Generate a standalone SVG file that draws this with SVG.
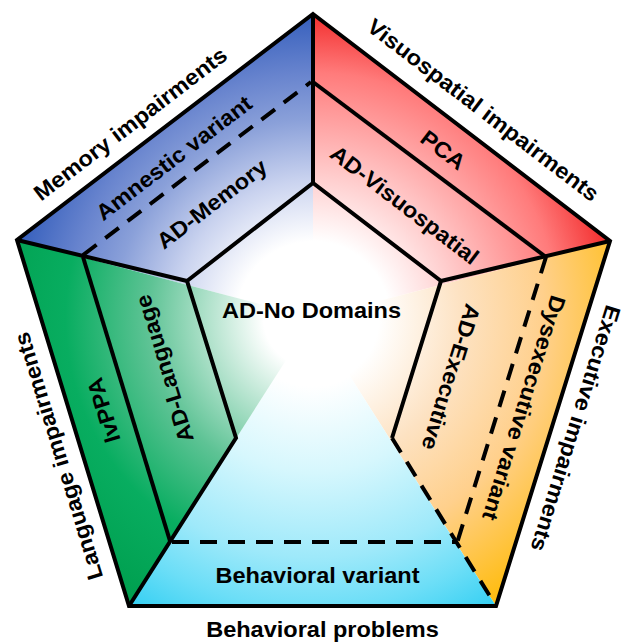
<svg xmlns="http://www.w3.org/2000/svg" width="625" height="642" viewBox="0 0 625 642">
  <style>
    .t { font-family: "Liberation Sans", Arial, sans-serif; font-weight: bold; font-size: 22px; fill: #000; text-anchor: middle; }
    .ln { fill: none; stroke: #000; stroke-width: 4; stroke-linejoin: miter; stroke-linecap: butt; }
    .dash { fill: none; stroke: #000; stroke-width: 4; stroke-dasharray: 17 11; }
  </style>
  <defs>
    <radialGradient id="gBlue" gradientUnits="userSpaceOnUse" cx="313" cy="318" r="306">
      <stop offset="0" stop-color="#ffffff"/>
      <stop offset="0.25" stop-color="#ffffff"/>
      <stop offset="0.45" stop-color="#cad3ef"/>
      <stop offset="0.65" stop-color="#8aa0d9"/>
      <stop offset="0.8" stop-color="#6884ce"/>
      <stop offset="1" stop-color="#345ebc"/>
    </radialGradient>
    <radialGradient id="gRed" gradientUnits="userSpaceOnUse" cx="313" cy="318" r="307">
      <stop offset="0" stop-color="#ffffff"/>
      <stop offset="0.25" stop-color="#ffffff"/>
      <stop offset="0.45" stop-color="#ffd0d0"/>
      <stop offset="0.65" stop-color="#ff9f9f"/>
      <stop offset="0.8" stop-color="#ff7b7b"/>
      <stop offset="1" stop-color="#f22a2a"/>
    </radialGradient>
    <radialGradient id="gOrange" gradientUnits="userSpaceOnUse" cx="313" cy="318" r="330">
      <stop offset="0" stop-color="#ffffff"/>
      <stop offset="0.2" stop-color="#ffffff"/>
      <stop offset="0.45" stop-color="#fde2c2"/>
      <stop offset="0.7" stop-color="#ffd08c"/>
      <stop offset="1" stop-color="#ffbd15"/>
    </radialGradient>
    <radialGradient id="gCyan" gradientUnits="userSpaceOnUse" cx="313" cy="318" r="342">
      <stop offset="0" stop-color="#ffffff"/>
      <stop offset="0.2" stop-color="#ffffff"/>
      <stop offset="0.45" stop-color="#d6f7fd"/>
      <stop offset="0.7" stop-color="#9ee9fa"/>
      <stop offset="0.85" stop-color="#6cdef7"/>
      <stop offset="1" stop-color="#33cff2"/>
    </radialGradient>
    <radialGradient id="gGreen" gradientUnits="userSpaceOnUse" cx="313" cy="318" r="330">
      <stop offset="0" stop-color="#ffffff"/>
      <stop offset="0.15" stop-color="#ffffff"/>
      <stop offset="0.5" stop-color="#5ec395"/>
      <stop offset="0.75" stop-color="#08ad60"/>
      <stop offset="1" stop-color="#00a050"/>
    </radialGradient>
  </defs>

  <g id="sectors">
    <polygon points="313,318 17,240 313,14" fill="url(#gBlue)"/>
    <polygon points="313,318 313,14 610,241" fill="url(#gRed)"/>
    <polygon points="313,318 610,241 496,606" fill="url(#gOrange)"/>
    <polygon points="313,318 496,606 129,606" fill="url(#gCyan)"/>
    <polygon points="313,318 129,606 17,240" fill="url(#gGreen)"/>
  </g>

  <g id="connectors">
    <path class="ln" d="M313,14 L313,183"/>
    <path class="ln" d="M17,240 L187,281 L236,438 L129,606"/>
    <path class="ln" d="M610,241 L441,281 L392,438"/>
    <path class="ln" d="M187,281 L313,183 L441,281"/>
    <path class="ln" d="M313,82 L546,257"/>
    <path class="ln" d="M83,257 L170,541"/>
    <path class="dash" d="M83,255 L311,82"/>
    <path class="dash" d="M546,257 L457,543"/>
    <path class="dash" d="M392,438 L496,606"/>
    <path class="dash" d="M172,542 L457,542"/>
    <polygon class="ln" points="313,14 610,241 496,606 129,606 17,240"/>
  </g>

  <g id="memory-impairments">
    <text class="t" transform="translate(135,130) rotate(-37.4) scale(1.07,1)">Memory impairments</text>
  </g>
  <g id="visuospatial-impairments">
    <text class="t" transform="translate(478.5,116) rotate(37.4) scale(1.07,1)">Visuospatial impairments</text>
  </g>
  <g id="executive-impairments">
    <text class="t" transform="translate(568.5,426.1) rotate(107.3) scale(1.07,1)">Executive impairments</text>
  </g>
  <g id="language-impairments">
    <text class="t" transform="translate(65.7,453.8) rotate(-107) scale(1.07,1)">Language impairments</text>
  </g>
  <g id="behavioral-problems">
    <text class="t" transform="translate(322.5,637) scale(1.07,1)">Behavioral problems</text>
  </g>

  <g id="amnestic-variant">
    <text class="t" transform="translate(178.5,164) rotate(-37.4) scale(1.07,1)">Amnestic variant</text>
  </g>
  <g id="ad-memory">
    <text class="t" transform="translate(216.5,210) rotate(-37.4) scale(1.07,1)">AD-Memory</text>
  </g>
  <g id="pca">
    <text class="t" transform="translate(438.5,156) rotate(37.4) scale(1.07,1)">PCA</text>
  </g>
  <g id="ad-visuospatial">
    <text class="t" transform="translate(400,211) rotate(37.4) scale(1.07,1)">AD-Visuospatial</text>
  </g>
  <g id="lvppa">
    <text class="t" transform="translate(111,408) rotate(-107) scale(1.07,1)">lvPPA</text>
  </g>
  <g id="ad-language">
    <text class="t" transform="translate(171.7,366.3) rotate(-107) scale(1.07,1)">AD-Language</text>
  </g>
  <g id="ad-executive">
    <text class="t" transform="translate(443.8,374.8) rotate(107.3) scale(1.07,1)">AD-Executive</text>
  </g>
  <g id="dysexecutive-variant">
    <text class="t" transform="translate(516.8,405.8) rotate(107.3) scale(1.07,1)">Dysexecutive variant</text>
  </g>
  <g id="ad-no-domains">
    <text class="t" transform="translate(311.5,318) scale(1.07,1)">AD-No Domains</text>
  </g>
  <g id="behavioral-variant">
    <text class="t" transform="translate(317.5,583) scale(1.07,1)">Behavioral variant</text>
  </g>
</svg>
